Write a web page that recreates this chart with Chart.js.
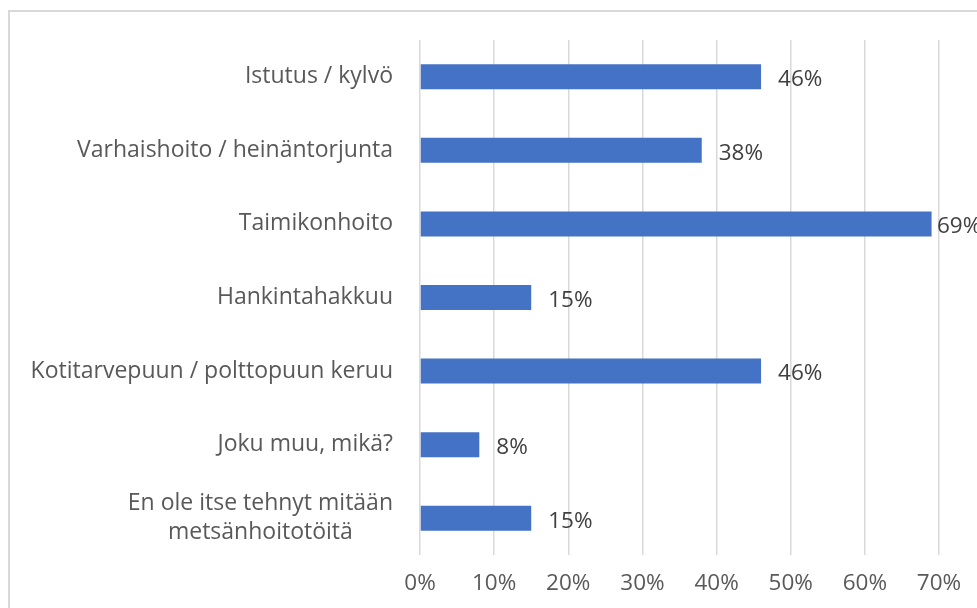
<!DOCTYPE html>
<html>
<head>
<meta charset="utf-8">
<script src="https://cdn.jsdelivr.net/npm/chart.js@4.4.1/dist/chart.umd.min.js"></script>
<style>
  html, body { margin:0; padding:0; background:#fff; width:977px; height:608px; overflow:hidden; }
  #frame { position:absolute; left:8px; top:10px; width:1100px; height:1000px; border:2px solid #d9d9d9; box-sizing:border-box; }
  #wrap { position:absolute; left:0; top:0; width:977px; height:608px; }
</style>
</head>
<body>
<div id="frame"></div>
<div id="wrap"><canvas id="c" width="977" height="608"></canvas></div>
<script>
const categories = [
  "Istutus / kylvö",
  "Varhaishoito / heinäntorjunta",
  "Taimikonhoito",
  "Hankintahakkuu",
  "Kotitarvepuun / polttopuun keruu",
  "Joku muu, mikä?",
  ["En ole itse tehnyt mitään", "metsänhoitotöitä"]
];
const values = [46, 38, 69, 15, 46, 8, 15];
const xTicks = [0, 10, 20, 30, 40, 50, 60, 70];

const FONT = "'Open Sans', 'Noto Sans', sans-serif";
const FS_CAT = 23;
const FS_VAL = 22.5;
const FS_TICK = 22.5;

const labelPlugin = {
  id: 'labels',
  afterDatasetsDraw(chart) {
    const ctx = chart.ctx;
    const meta = chart.getDatasetMeta(0);
    const area = chart.chartArea;
    ctx.save();
    ctx.font = FS_VAL + 'px ' + FONT;
    ctx.fillStyle = '#404040';
    ctx.textAlign = 'left';
    ctx.textBaseline = 'middle';
    meta.data.forEach((bar, i) => {
      const x = Math.min(bar.x + 17, area.right - 2);
      ctx.fillText(values[i] + '%', x, bar.y + 3);
    });
    // category labels
    const ys = chart.scales.y;
    ctx.font = FS_CAT + 'px ' + FONT;
    ctx.fillStyle = '#595959';
    const right = 393;
    categories.forEach((lab, i) => {
      const y = ys.getPixelForValue(i);
      if (Array.isArray(lab)) {
        const w = Math.max(...lab.map(l => ctx.measureText(l).width));
        const cx = right - w / 2;
        ctx.textAlign = 'center';
        const lh = 29;
        const y0 = y - lh * (lab.length - 1) / 2;
        lab.forEach((l, k) => ctx.fillText(l, cx, y0 + k * lh));
      } else {
        ctx.textAlign = 'right';
        ctx.fillText(lab, right, y);
      }
    });
    ctx.restore();
  }
};

new Chart(document.getElementById('c'), {
  type: 'bar',
  data: {
    labels: categories,
    datasets: [{
      data: values,
      backgroundColor: '#4472C4',
      borderWidth: 0,
      barPercentage: 0.68,
      categoryPercentage: 0.5
    }]
  },
  options: {
    indexAxis: 'y',
    responsive: false,
    animation: false,
    events: [],
    layout: { padding: { top: 40, right: 38, left: 0, bottom: 0 } },
    plugins: { legend: { display: false }, tooltip: { enabled: false } },
    scales: {
      x: {
        min: 0, max: 70,
        afterBuildTicks(axis) { axis.ticks = xTicks.map(v => ({ value: v })); },
        grid: { color: '#d9d9d9', lineWidth: 1.5, drawTicks: false },
        border: { display: false },
        ticks: {
          padding: 15,
          color: '#595959',
          font: { family: FONT, size: FS_TICK },
          callback: v => v + '%'
        },
        afterFit(axis) { axis.height = 53; }
      },
      y: {
        grid: { display: false, drawTicks: false },
        border: { display: false },
        ticks: { display: false },
        afterFit(axis) { axis.width = 420; }
      }
    }
  },
  plugins: [labelPlugin]
});
</script>
</body>
</html>
